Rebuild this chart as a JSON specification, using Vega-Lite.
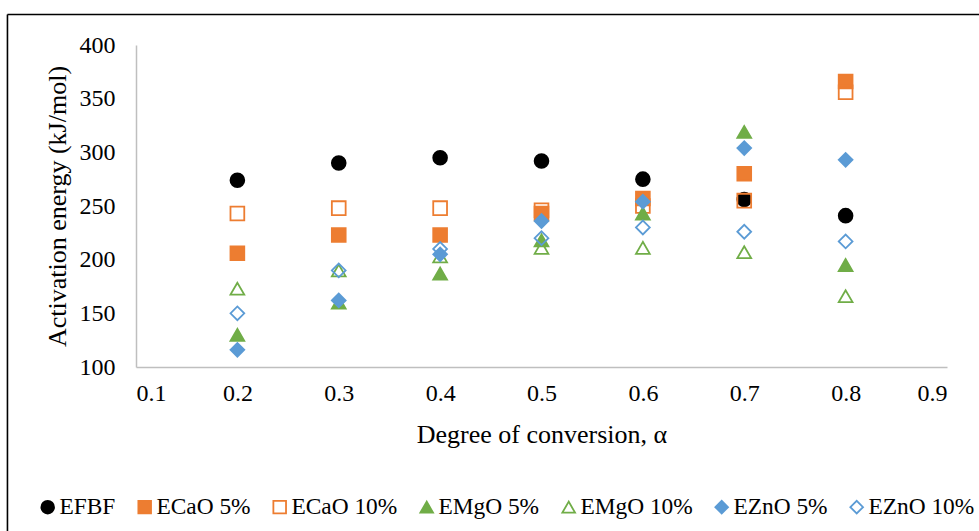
{
  "$schema": "https://vega.github.io/schema/vega-lite/v6.json",
  "width": 811,
  "height": 322,
  "autosize": {"type": "none"},
  "padding": {"left": 136, "top": 45, "right": 32, "bottom": 164},
  "background": "white",
  "config": {"view": {"stroke": null}, "font": "Liberation Serif"},
  "layer": [
    {
      "data": {"values": [
        {"series": "EFBF", "alpha": 0.2, "E": 274},
        {"series": "EFBF", "alpha": 0.3, "E": 290},
        {"series": "EFBF", "alpha": 0.4, "E": 295},
        {"series": "EFBF", "alpha": 0.5, "E": 292},
        {"series": "EFBF", "alpha": 0.6, "E": 275},
        {"series": "EFBF", "alpha": 0.7, "E": 256},
        {"series": "EFBF", "alpha": 0.8, "E": 241},
        {"series": "ECaO 5%", "alpha": 0.2, "E": 206},
        {"series": "ECaO 5%", "alpha": 0.3, "E": 223},
        {"series": "ECaO 5%", "alpha": 0.4, "E": 223},
        {"series": "ECaO 5%", "alpha": 0.5, "E": 243},
        {"series": "ECaO 5%", "alpha": 0.6, "E": 257},
        {"series": "ECaO 5%", "alpha": 0.7, "E": 280},
        {"series": "ECaO 5%", "alpha": 0.8, "E": 366},
        {"series": "ECaO 10%", "alpha": 0.2, "E": 243},
        {"series": "ECaO 10%", "alpha": 0.3, "E": 248},
        {"series": "ECaO 10%", "alpha": 0.4, "E": 248},
        {"series": "ECaO 10%", "alpha": 0.5, "E": 246},
        {"series": "ECaO 10%", "alpha": 0.6, "E": 250},
        {"series": "ECaO 10%", "alpha": 0.7, "E": 255},
        {"series": "ECaO 10%", "alpha": 0.8, "E": 356},
        {"series": "EMgO 5%", "alpha": 0.2, "E": 130},
        {"series": "EMgO 5%", "alpha": 0.3, "E": 160},
        {"series": "EMgO 5%", "alpha": 0.4, "E": 187},
        {"series": "EMgO 5%", "alpha": 0.5, "E": 218},
        {"series": "EMgO 5%", "alpha": 0.6, "E": 243},
        {"series": "EMgO 5%", "alpha": 0.7, "E": 319},
        {"series": "EMgO 5%", "alpha": 0.8, "E": 195},
        {"series": "EMgO 10%", "alpha": 0.2, "E": 173},
        {"series": "EMgO 10%", "alpha": 0.3, "E": 190},
        {"series": "EMgO 10%", "alpha": 0.4, "E": 203},
        {"series": "EMgO 10%", "alpha": 0.5, "E": 211},
        {"series": "EMgO 10%", "alpha": 0.6, "E": 211},
        {"series": "EMgO 10%", "alpha": 0.7, "E": 207},
        {"series": "EMgO 10%", "alpha": 0.8, "E": 166},
        {"series": "EZnO 5%", "alpha": 0.2, "E": 116},
        {"series": "EZnO 5%", "alpha": 0.3, "E": 162},
        {"series": "EZnO 5%", "alpha": 0.4, "E": 205},
        {"series": "EZnO 5%", "alpha": 0.5, "E": 236},
        {"series": "EZnO 5%", "alpha": 0.6, "E": 254},
        {"series": "EZnO 5%", "alpha": 0.7, "E": 304},
        {"series": "EZnO 5%", "alpha": 0.8, "E": 293},
        {"series": "EZnO 10%", "alpha": 0.2, "E": 150},
        {"series": "EZnO 10%", "alpha": 0.3, "E": 190},
        {"series": "EZnO 10%", "alpha": 0.4, "E": 210},
        {"series": "EZnO 10%", "alpha": 0.5, "E": 220},
        {"series": "EZnO 10%", "alpha": 0.6, "E": 230},
        {"series": "EZnO 10%", "alpha": 0.7, "E": 226},
        {"series": "EZnO 10%", "alpha": 0.8, "E": 217}
      ]},
      "mark": {"type": "point", "size": 190, "strokeWidth": 1.8, "opacity": 1, "fillOpacity": 1, "strokeOpacity": 1},
      "encoding": {
        "x": {
          "field": "alpha", "type": "quantitative", "title": "Degree of conversion, α",
          "scale": {"domain": [0.1, 0.9], "nice": false, "zero": false},
          "axis": {
            "values": [0.1, 0.2, 0.3, 0.4, 0.5, 0.6, 0.7, 0.8, 0.9], "format": ".1f",
            "grid": false, "ticks": false, "domainColor": "#bfbfbf", "domainWidth": 1.5,
            "labelFontSize": 24, "labelColor": "black", "labelPadding": 14, "labelFont": "Liberation Serif",
            "title": "Degree of conversion, α", "titleFontSize": 26, "titleFontWeight": "normal",
            "titleColor": "black", "titlePadding": 16, "titleFont": "Liberation Serif"
          }
        },
        "y": {
          "field": "E", "type": "quantitative", "title": "Activation energy (kJ/mol)",
          "scale": {"domain": [100, 400], "nice": false, "zero": false},
          "axis": {
            "values": [100, 150, 200, 250, 300, 350, 400],
            "grid": false, "ticks": false, "domainColor": "#bfbfbf", "domainWidth": 1.5,
            "labelFontSize": 24, "labelColor": "black", "labelPadding": 21, "labelFont": "Liberation Serif",
            "title": "Activation energy (kJ/mol)", "titleFontSize": 26, "titleFontWeight": "normal",
            "titleColor": "black", "titlePadding": 9, "titleFont": "Liberation Serif"
          }
        },
        "shape": {
          "field": "series", "type": "nominal",
          "scale": {"domain": ["EFBF", "ECaO 5%", "ECaO 10%", "EMgO 5%", "EMgO 10%", "EZnO 5%", "EZnO 10%"],
                    "range": ["circle", "square", "square", "triangle-up", "triangle-up", "diamond", "diamond"]},
          "legend": {"orient": "none", "legendX": -100, "legendY": 450, "direction": "horizontal", "title": null,
                     "labelFontSize": 23.4, "labelFont": "Liberation Serif", "labelColor": "black",
                     "symbolSize": 160, "symbolStrokeWidth": 1.8, "columnPadding": 17, "labelOffset": 0}
        },
        "fill": {
          "field": "series", "type": "nominal",
          "scale": {"domain": ["EFBF", "ECaO 5%", "ECaO 10%", "EMgO 5%", "EMgO 10%", "EZnO 5%", "EZnO 10%"],
                    "range": ["black", "#ED7D31", "transparent", "#70AD47", "transparent", "#5B9BD5", "transparent"]},
          "legend": {"orient": "none", "legendX": -100, "legendY": 450, "direction": "horizontal", "title": null,
                     "labelFontSize": 23.4, "labelFont": "Liberation Serif", "labelColor": "black",
                     "symbolSize": 160, "symbolStrokeWidth": 1.8, "columnPadding": 17, "labelOffset": 0}
        },
        "stroke": {
          "field": "series", "type": "nominal",
          "scale": {"domain": ["EFBF", "ECaO 5%", "ECaO 10%", "EMgO 5%", "EMgO 10%", "EZnO 5%", "EZnO 10%"],
                    "range": ["black", "#ED7D31", "#ED7D31", "#70AD47", "#70AD47", "#5B9BD5", "#5B9BD5"]},
          "legend": {"orient": "none", "legendX": -100, "legendY": 450, "direction": "horizontal", "title": null,
                     "labelFontSize": 23.4, "labelFont": "Liberation Serif", "labelColor": "black",
                     "symbolSize": 160, "symbolStrokeWidth": 1.8, "columnPadding": 17, "labelOffset": 0}
        }
      }
    },
    {
      "data": {"values": [
        {"bx": -0.0268, "bx2": -0.0268, "by": -80, "by2": 428.4},
        {"bx": -0.0268, "bx2": 1.0, "by": 428.4, "by2": 428.4}
      ]},
      "mark": {"type": "rule", "color": "black", "strokeWidth": 1.6, "clip": false},
      "encoding": {
        "x": {"field": "bx", "type": "quantitative", "title": "Degree of conversion, α", "scale": {"domain": [0.1, 0.9], "nice": false, "zero": false}},
        "x2": {"field": "bx2"},
        "y": {"field": "by", "type": "quantitative", "title": "Activation energy (kJ/mol)", "scale": {"domain": [100, 400], "nice": false, "zero": false}},
        "y2": {"field": "by2"}
      }
    }
  ]
}
